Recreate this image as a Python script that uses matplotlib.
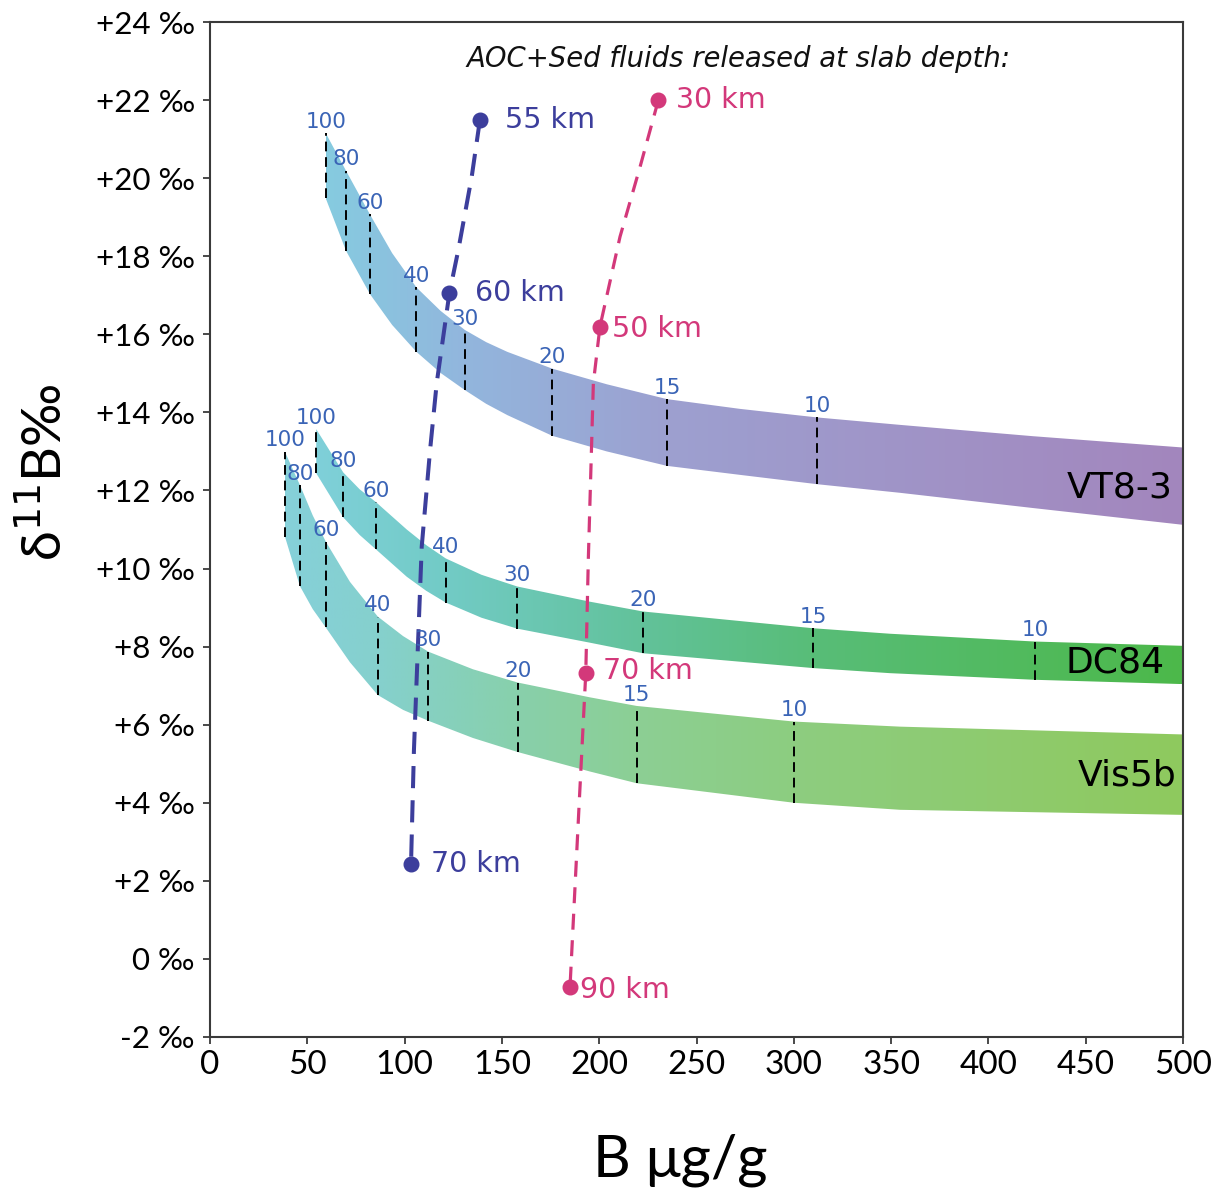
import numpy as np
import matplotlib
matplotlib.use("Agg")
import matplotlib.pyplot as plt
from matplotlib.colors import LinearSegmentedColormap
from matplotlib.patches import Polygon

# ---------------- data ----------------
# Band VT8-3 edges (B ug/g, delta11B upper / lower)
vt_x   = [59.5, 69.9, 82.2, 93.6, 106.1, 118.5, 131.0, 141.9, 152.8, 175.9, 203.9, 234.8, 272.3, 312.1, 354.6, 422.9, 500.0]
vt_top = [21.15, 20.19, 19.07, 18.08, 17.20, 16.60, 16.11, 15.80, 15.55, 15.12, 14.72, 14.34, 14.09, 13.87, 13.68, 13.39, 13.10]
vt_bot = [19.48, 18.14, 17.03, 16.24, 15.55, 15.01, 14.57, 14.22, 13.93, 13.40, 13.00, 12.63, 12.40, 12.16, 11.94, 11.55, 11.12]
vt_tick_x = [59.5, 69.9, 82.2, 106.1, 131.0, 175.9, 234.8, 312.1]

# Band DC84 edges
dc_x   = [54.6, 68.5, 76.9, 85.3, 101.1, 111.1, 121.1, 139.5, 157.9, 195.3, 222.5, 310.0, 349.4, 423.9, 500.0]
dc_top = [13.57, 12.46, 12.03, 11.70, 11.00, 10.60, 10.26, 9.84, 9.54, 9.15, 8.90, 8.47, 8.33, 8.13, 8.02]
dc_bot = [12.44, 11.31, 10.86, 10.49, 9.79, 9.43, 9.13, 8.74, 8.46, 8.10, 7.83, 7.45, 7.32, 7.15, 7.04]
dc_tick_x = [54.6, 68.5, 85.3, 121.1, 157.9, 222.5, 310.0, 423.9]

# Band Vis5b edges
vs_x   = [38.5, 46.2, 52.8, 59.5, 71.9, 86.2, 99.2, 112.2, 135.1, 158.1, 195.3, 219.3, 300.1, 354.6, 500.0]
vs_top = [12.99, 12.14, 11.36, 10.69, 9.66, 8.77, 8.27, 7.87, 7.42, 7.08, 6.70, 6.48, 6.08, 5.95, 5.75]
vs_bot = [10.82, 9.55, 8.96, 8.49, 7.60, 6.76, 6.38, 6.10, 5.66, 5.30, 4.80, 4.50, 4.00, 3.82, 3.69]
vs_tick_x = [38.5, 46.2, 59.5, 86.2, 112.2, 158.1, 219.3, 300.1]

tick_labels = ["100", "80", "60", "40", "30", "20", "15", "10"]
band_names = ["VT8-3", "DC84", "Vis5b"]

# Fluid paths (AOC+Sed fluids)
blue_x = [138.7, 134.5, 127.6, 123.0, 116.5, 113.1, 108.8, 104.8, 103.3]
blue_y = [21.49, 20.04, 18.16, 17.05, 14.75, 13.04, 10.56, 5.35, 2.43]
blue_pts_x = [138.7, 123.0, 103.3]
blue_pts_y = [21.49, 17.05, 2.43]
blue_pts_lab = ["55 km", "60 km", "70 km"]

pink_x = [230.4, 221.0, 210.7, 200.4, 197.0, 194.4, 193.1, 189.8, 185.0]
pink_y = [22.00, 20.29, 18.50, 16.20, 14.75, 10.22, 7.32, 4.07, -0.72]
pink_pts_x = [230.4, 200.4, 193.1, 185.0]
pink_pts_y = [22.00, 16.20, 7.32, -0.72]
pink_pts_lab = ["30 km", "50 km", "70 km", "90 km"]

yticks = [-2, 0, 2, 4, 6, 8, 10, 12, 14, 16, 18, 20, 22, 24]
ytick_labels = ["-2 ‰", "0 ‰", "+2 ‰", "+4 ‰", "+6 ‰", "+8 ‰", "+10 ‰", "+12 ‰",
                "+14 ‰", "+16 ‰", "+18 ‰", "+20 ‰", "+22 ‰", "+24 ‰"]
xticks = [0, 50, 100, 150, 200, 250, 300, 350, 400, 450, 500]

# ---------------- styling ----------------
W, H = 1222, 1191
fig = plt.figure(figsize=(W / 100, H / 100), dpi=100)
ax = fig.add_axes([210 / W, 1 - 1037 / H, (1183 - 210) / W, (1037 - 22) / H])
ax.set_xlim(0, 500)
ax.set_ylim(-2, 24)

LAB_FONT = ["Lato", "DejaVu Sans"]
NUM_COLOR = "#3a64b6"
BLUE = "#3c3e9c"
PINK = "#d3387a"

grad_stops = {
    "VT8-3": ([59.5, 130, 235, 500], ["#86cbe0", "#92b6dd", "#9da0d0", "#a386bd"]),
    "DC84": ([54.6, 120, 222, 310, 500], ["#7fd0d9", "#72cbc6", "#62c29a", "#58bd78", "#4cb84a"]),
    "Vis5b": ([38.5, 86, 158, 220, 300, 500], ["#86d0d9", "#85d0cd", "#88d0ab", "#8ccf94", "#8dcd80", "#8fc95e"]),
}


def draw_band(name, x, top, bot, tx):
    x = np.asarray(x); top = np.asarray(top); bot = np.asarray(bot)
    verts = np.column_stack([np.concatenate([x, x[::-1]]),
                             np.concatenate([top, bot[::-1]])])
    patch = Polygon(verts, closed=True, facecolor="none", edgecolor="none")
    ax.add_patch(patch)
    sx, sc = grad_stops[name]
    x0, x1 = x.min(), x.max()
    pos = [(s - x0) / (x1 - x0) for s in sx]
    pos[0], pos[-1] = 0.0, 1.0
    cmap = LinearSegmentedColormap.from_list(name, list(zip(pos, sc)))
    grad = np.linspace(0, 1, 600)[None, :]
    img = ax.imshow(grad, extent=[x0, x1, bot.min(), top.max()], aspect="auto",
                    cmap=cmap, origin="lower", zorder=1, interpolation="bilinear")
    img.set_clip_path(patch)
    # dashed markers and labels
    for xv, lab in zip(tx, tick_labels):
        yt = np.interp(xv, x, top)
        yb = np.interp(xv, x, bot)
        ax.plot([xv, xv], [yb, yt], color="black", lw=1.4, ls=(0, (5, 3)), zorder=2)
        ax.annotate(lab, (xv, yt), xytext=(0, 1.0), textcoords="offset points",
                    ha="center", va="bottom", fontsize=15.5, color=NUM_COLOR, zorder=5)


draw_band("VT8-3", vt_x, vt_top, vt_bot, vt_tick_x)
draw_band("DC84", dc_x, dc_top, dc_bot, dc_tick_x)
draw_band("Vis5b", vs_x, vs_top, vs_bot, vs_tick_x)

ax.set_xlim(0, 500)
ax.set_ylim(-2, 24)

# Band names
ax.text(0.9897, 0.5409, band_names[0], transform=ax.transAxes, ha="right", va="center", fontsize=26, zorder=6)
ax.text(0.9815, 0.3685, band_names[1], transform=ax.transAxes, ha="right", va="center", fontsize=26, zorder=6)
ax.text(0.9928, 0.2581, band_names[2], transform=ax.transAxes, ha="right", va="center", fontsize=26, zorder=6)

# Fluid lines
ax.plot(blue_x, blue_y, color=BLUE, lw=2.9, ls=(0, (5.5, 3)), zorder=4)
ax.plot(blue_pts_x, blue_pts_y, "o", color=BLUE, ms=10.5, zorder=5)
ax.plot(pink_x, pink_y, color=PINK, lw=2.3, ls=(0, (5, 3.3)), zorder=4)
ax.plot(pink_pts_x, pink_pts_y, "o", color=PINK, ms=10.5, zorder=5)

blue_off = [(18, 0), (18.7, 0), (14.4, 0)]
for xv, yv, lab, off in zip(blue_pts_x, blue_pts_y, blue_pts_lab, blue_off):
    ax.annotate(lab, (xv, yv), xytext=off, textcoords="offset points",
                ha="left", va="center", fontsize=20.5, color=BLUE, zorder=6)
pink_off = [(13, 0), (8.6, -1.5), (12.2, 1.2), (7.2, -2.2)]
for xv, yv, lab, off in zip(pink_pts_x, pink_pts_y, pink_pts_lab, pink_off):
    ax.annotate(lab, (xv, yv), xytext=off, textcoords="offset points",
                ha="left", va="center", fontsize=20.5, color=PINK, zorder=6)

ax.text(0.5427, 0.9635, "AOC+Sed fluids released at slab depth:", transform=ax.transAxes,
        ha="center", va="center", fontsize=19.8, style="italic", color="#111111")

# Axes styling
for sp in ax.spines.values():
    sp.set_color("#3a3a3a")
    sp.set_linewidth(1.5)
ax.set_yticks(yticks)
ax.set_yticklabels(ytick_labels, fontfamily=LAB_FONT, fontsize=22.5)
ax.set_xticks(xticks)
ax.set_xticklabels([str(v) for v in xticks], fontfamily=LAB_FONT, fontsize=24)
ax.tick_params(axis="both", direction="out", length=5, width=1.3, color="#3a3a3a")
ax.tick_params(axis="y", pad=6)
ax.tick_params(axis="x", pad=4)

fig.text(680 / W, 1 - 1160 / H, "B μg/g", ha="center", va="center",
         fontsize=42, family=LAB_FONT)
fig.text(45 / W, 1 - 472 / H, "δ$^{11}$B‰", ha="center", va="center",
         rotation=90, fontsize=39, family=LAB_FONT)

fig.savefig("out.png", dpi=100)
